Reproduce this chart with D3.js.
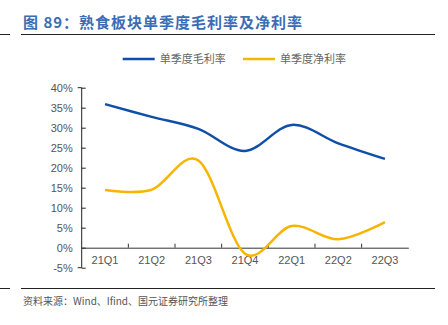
<!DOCTYPE html>
<html>
<head>
<meta charset="utf-8">
<script src="https://cdn.jsdelivr.net/npm/d3@7"></script>
<style>
  body { margin: 0; background: #fff; }
  text { font-family: "Liberation Sans", Arial, sans-serif; }
  .cjk { font-family: "Noto Sans CJK SC", sans-serif; }
</style>
</head>
<body>
<script>
// quarters and the two series (%)
const quarters = ['21Q1', '21Q2', '21Q3', '21Q4', '22Q1', '22Q2', '22Q3'];
const grossMargin = [35.9, 32.7, 29.7, 24.2, 30.7, 26.1, 22.2];
const netMargin = [14.4, 14.5, 21.8, -1.5, 5.4, 2.1, 6.4];
const yTicks = [-5, 0, 5, 10, 15, 20, 25, 30, 35, 40];
const seriesNames = ['单季度毛利率', '单季度净利率'];
const colors = ['#0f4fa8', '#f7b500'];

const svg = d3.select('body')
  .append('svg')
  .attr('width', 448)
  .attr('height', 325);

// title
svg.append('text')
  .attr('class', 'cjk')
  .attr('x', 23)
  .attr('y', 27.5)
  .attr('fill', '#3a6db5')
  .attr('font-size', 15)
  .attr('font-weight', 'bold')
  .attr('letter-spacing', 1)
  .text('图 89：熟食板块单季度毛利率及净利率');

svg.append('line').attr('x1', 0).attr('x2', 10).attr('y1', 34.5).attr('y2', 34.5)
  .attr('stroke', '#222').attr('stroke-width', 1);
svg.append('line').attr('x1', 21).attr('x2', 435).attr('y1', 34.5).attr('y2', 34.5)
  .attr('stroke', '#222').attr('stroke-width', 1);

// footer
svg.append('line').attr('x1', 0).attr('x2', 10).attr('y1', 288.5).attr('y2', 288.5)
  .attr('stroke', '#222').attr('stroke-width', 1);
svg.append('line').attr('x1', 21).attr('x2', 435).attr('y1', 288.5).attr('y2', 288.5)
  .attr('stroke', '#222').attr('stroke-width', 1);
svg.append('text')
  .attr('class', 'cjk')
  .attr('x', 23)
  .attr('y', 305)
  .attr('fill', '#555')
  .attr('font-size', 10)
  .text('资料来源：Wind、Ifind、国元证券研究所整理');

const x = d3.scaleBand()
  .domain(quarters)
  .range([81.7, 408.3]);

const y = d3.scaleLinear()
  .domain([-5, 40])
  .range([267.7, 87.7]);

// y axis
const yAxis = svg.append('g')
  .attr('transform', 'translate(81.7,0)')
  .call(d3.axisLeft(y).tickValues(yTicks).tickFormat(d => d + '%').tickSize(4).tickPadding(5));
yAxis.select('.domain').attr('stroke', '#222').attr('d', `M-4,${y(40)}H0V${y(-5)}H-4`);
yAxis.selectAll('.tick line').attr('stroke', '#222').attr('x1', 0).attr('x2', 4);
yAxis.selectAll('.tick text')
  .attr('fill', '#555')
  .attr('font-size', 11)
  .attr('font-family', '"Liberation Sans", Arial, sans-serif');

// x axis at 0
const xAxis = svg.append('g')
  .attr('transform', `translate(0,${y(0)})`)
  .call(d3.axisBottom(x).tickSize(0).tickPadding(9));
xAxis.select('.domain').attr('stroke', '#333');
xAxis.selectAll('.tick text')
  .attr('fill', '#555')
  .attr('font-size', 11)
  .attr('font-family', '"Liberation Sans", Arial, sans-serif');

// tick marks between bands
svg.append('g')
  .selectAll('line')
  .data(quarters.slice(1))
  .enter()
  .append('line')
  .attr('x1', d => x(d))
  .attr('x2', d => x(d))
  .attr('y1', y(0))
  .attr('y2', y(0) - 4)
  .attr('stroke', '#333');

const line = d3.line()
  .x((d, i) => x(quarters[i]) + x.bandwidth() / 2)
  .y(d => y(d))
  .curve(d3.curveCatmullRom.alpha(0));

[grossMargin, netMargin].forEach((s, k) => {
  svg.append('path')
    .datum(s)
    .attr('d', line)
    .attr('fill', 'none')
    .attr('stroke', colors[k])
    .attr('stroke-width', 2.5);
});

// legend
const legendX = [122.7, 243];
seriesNames.forEach((name, k) => {
  svg.append('line')
    .attr('x1', legendX[k])
    .attr('x2', legendX[k] + 32)
    .attr('y1', 59)
    .attr('y2', 59)
    .attr('stroke', colors[k])
    .attr('stroke-width', 2.5);
  svg.append('text')
    .attr('class', 'cjk')
    .attr('x', legendX[k] + 37)
    .attr('y', 63)
    .attr('fill', '#666')
    .attr('font-size', 11)
    .text(name);
});
</script>
</body>
</html>
